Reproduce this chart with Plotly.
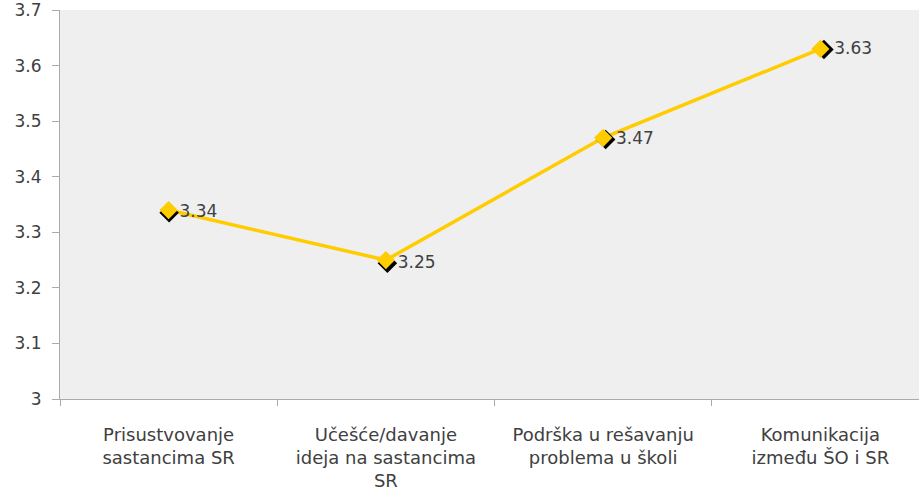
import plotly.graph_objects as go

categories = ["Prisustvovanje<br>sastancima SR",
              "Učešće/davanje<br>ideja na sastancima<br>SR",
              "Podrška u rešavanju<br>problema u školi",
              "Komunikacija<br>između ŠO i SR"]
values = [3.34, 3.25, 3.47, 3.63]
value_labels = ["3.34", "3.25", "3.47", "3.63"]
y_ticks = [3, 3.1, 3.2, 3.3, 3.4, 3.5, 3.6, 3.7]
y_tick_labels = ["3", "3.1", "3.2", "3.3", "3.4", "3.5", "3.6", "3.7"]

W, H = 919, 497
ml, mr, mt, mb = 60, 0, 10, 98
pw, ph = W - ml - mr, H - mt - mb
dx, dy = 4 / pw, 5 / ph
xr = [-0.5, 3.454]
yr = [3, 3.7]
xspan = xr[1] - xr[0]
yspan = yr[1] - yr[0]
xr2 = [xr[0], xr[0] + xspan * (1 - dx)]
yr2 = [yr[0] + yspan * dy, yr[1]]
font = "DejaVu Sans"
txt = "#404040"
axc = "#ababab"
yellow = "#FFCC00"

fig = go.Figure()
# connecting line
fig.add_trace(go.Scatter(x=categories, y=values, mode="lines",
                         line=dict(color=yellow, width=3.5),
                         hoverinfo="skip", showlegend=False))
# shadow markers + value labels on offset axes
fig.add_trace(go.Scatter(x=categories, y=values, mode="markers+text",
                         marker=dict(symbol="diamond", size=15, color="black"),
                         text=value_labels, textposition="middle right",
                         textfont=dict(family=font, size=17, color=txt),
                         xaxis="x2", yaxis="y2", hoverinfo="skip",
                         showlegend=False, cliponaxis=False))
# markers on top
fig.add_trace(go.Scatter(x=categories, y=values, mode="markers",
                         marker=dict(symbol="diamond", size=14, color=yellow),
                         xaxis="x3", yaxis="y3",
                         showlegend=False, cliponaxis=False))

fig.update_layout(
    width=W, height=H,
    margin=dict(l=ml, r=mr, t=mt, b=mb, pad=0),
    paper_bgcolor="white", plot_bgcolor="#efefef",
    font=dict(family=font, size=17, color=txt),
    xaxis=dict(type="category", range=xr, showgrid=False, showline=True,
               linecolor=axc, linewidth=1, ticks="outside", tickson="boundaries",
               ticklen=6, tickcolor=axc, tickfont=dict(family=font, size=18, color=txt),
               ticklabelstandoff=19, ticklabeloverflow="allow",
               domain=[0, 1], zeroline=False, automargin=False),
    yaxis=dict(range=yr, tickvals=y_ticks, ticktext=y_tick_labels, showgrid=False,
               showline=True, linecolor=axc, linewidth=1, ticks="outside",
               ticklen=7, tickcolor=axc, zeroline=False, automargin=False,
               ticklabelstandoff=7, ticklabeloverflow="allow",
               tickfont=dict(family=font, size=17, color=txt), domain=[0, 1]),
    xaxis2=dict(type="category", range=xr2, overlaying="x", domain=[dx, 1],
                visible=False, anchor="y2"),
    yaxis2=dict(range=yr2, overlaying="y", domain=[0, 1 - dy], visible=False,
                anchor="x2"),
    xaxis3=dict(type="category", range=xr, overlaying="x", domain=[0, 1],
                visible=False, anchor="y3"),
    yaxis3=dict(range=yr, overlaying="y", domain=[0, 1], visible=False,
                anchor="x3"),
)

fig.write_html("out.html", config={"displayModeBar": False},
               post_script="document.body.style.margin='0';document.body.style.overflow='hidden';")
